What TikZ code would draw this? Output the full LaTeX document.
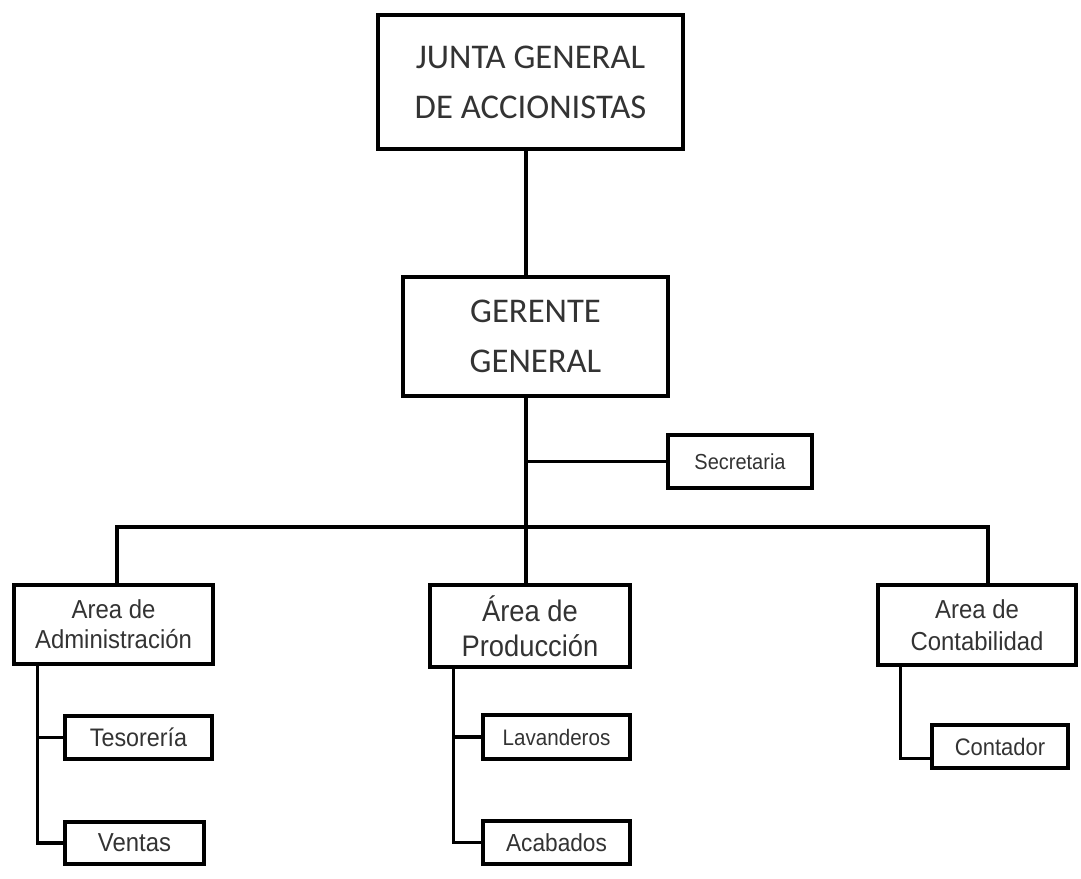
\documentclass[tikz,border=0pt]{standalone}
\usepackage{fontspec}
\usepackage{tikz}
\usetikzlibrary{positioning}
\usepackage{xcolor}
\newfontfamily\topfont{Carlito}
\newfontfamily\boxfont[FakeStretch=0.92]{Liberation Sans}
\definecolor{texto}{gray}{0.2}

\begin{document}
\begin{tikzpicture}[
    x=0.75pt, y=-0.75pt,
    % 样式
    topbox/.style={rectangle, draw=black, line width=2.4pt, text=texto, align=center, inner sep=0pt, font=\topfont\fontsize{26}{37.5}\selectfont},
    areabox/.style={rectangle, draw=black, line width=2.4pt, text=texto, align=center, inner sep=0pt, font=\boxfont\fontsize{19.5}{22.5}\selectfont},
    unitbox/.style={rectangle, draw=black, line width=2.4pt, text=texto, inner sep=0pt, font=\boxfont\fontsize{18.5}{20}\selectfont},
    link/.style={draw=black, line width=2.4pt},
    ]
    \useasboundingbox (0,0) rectangle (1081,878);

    % 节点:Nodes
    \node[topbox, minimum width=228.75pt, minimum height=100.5pt] (junta) at (530.5,82) {JUNTA GENERAL\\DE ACCIONISTAS};
    \node[topbox, minimum width=198.75pt, minimum height=89.25pt] (gerente) at (535.5,336.5) {GERENTE\\GENERAL};
    \node[unitbox, minimum width=108pt, minimum height=39.75pt, font=\boxfont\fontsize{16.3}{18}\selectfont] (secre) at (740,461.5) {Secretaria};

    \node[areabox, minimum width=149.25pt, minimum height=59.25pt] (admin) at (113.5,624.5) {Area de\\Administración};
    \node[areabox, minimum width=150pt, minimum height=61.5pt, font=\boxfont\fontsize{22.3}{26}\selectfont] (prod) at (530,626) {Área de\\Producción};
    \node[areabox, minimum width=148.5pt, minimum height=60pt, font=\boxfont\fontsize{19.5}{24}\selectfont] (conta) at (977,625) {Area de\\Contabilidad};

    \node[unitbox, minimum width=110.25pt, minimum height=32.25pt, font=\boxfont\fontsize{19}{20}\selectfont] (tes) at (138.5,737.5) {Tesorería};
    \node[unitbox, minimum width=104.25pt, minimum height=31.5pt, font=\boxfont\fontsize{19.5}{20}\selectfont] (ventas) at (134.5,843) {Ventas};
    \node[unitbox, minimum width=110.25pt, minimum height=33pt, font=\boxfont\fontsize{16.8}{18}\selectfont] (lav) at (556.5,737) {Lavanderos};
    \node[unitbox, minimum width=110.25pt, minimum height=32.25pt] (acab) at (556.5,842.5) {Acabados};
    \node[unitbox, minimum width=102pt, minimum height=32.25pt, font=\boxfont\fontsize{17.9}{20}\selectfont] (contador) at (1000,746.5) {Contador};

    % 连线:Lines
    \coordinate (bus) at (526,527);
    \draw[link] (junta.south -| bus) -- (gerente.north -| bus);
    \draw[link] (gerente.south -| bus) -- (bus);
    \draw[link] (bus |- secre.west) -- (secre.west);
    \draw[link] ([xshift=2.6pt]admin.north) |- (bus) -| ([xshift=8.25pt]conta.north);
    \draw[link] (bus) -- (bus |- prod.north);

    \coordinate (adm-t) at ([xshift=18.75pt]admin.south west);
    \draw[link] (adm-t) |- (ventas.west);
    \draw[link] (adm-t |- tes.west) -- (tes.west);

    \coordinate (prod-t) at ([xshift=18.75pt]prod.south west);
    \draw[link] (prod-t) |- (acab.west);
    \draw[link] (prod-t |- lav.west) -- (lav.west);

    \coordinate (con-t) at ([xshift=18pt]conta.south west);
    \draw[link] (con-t) |- ([yshift=-9pt]contador.west);

\end{tikzpicture}
\end{document}
